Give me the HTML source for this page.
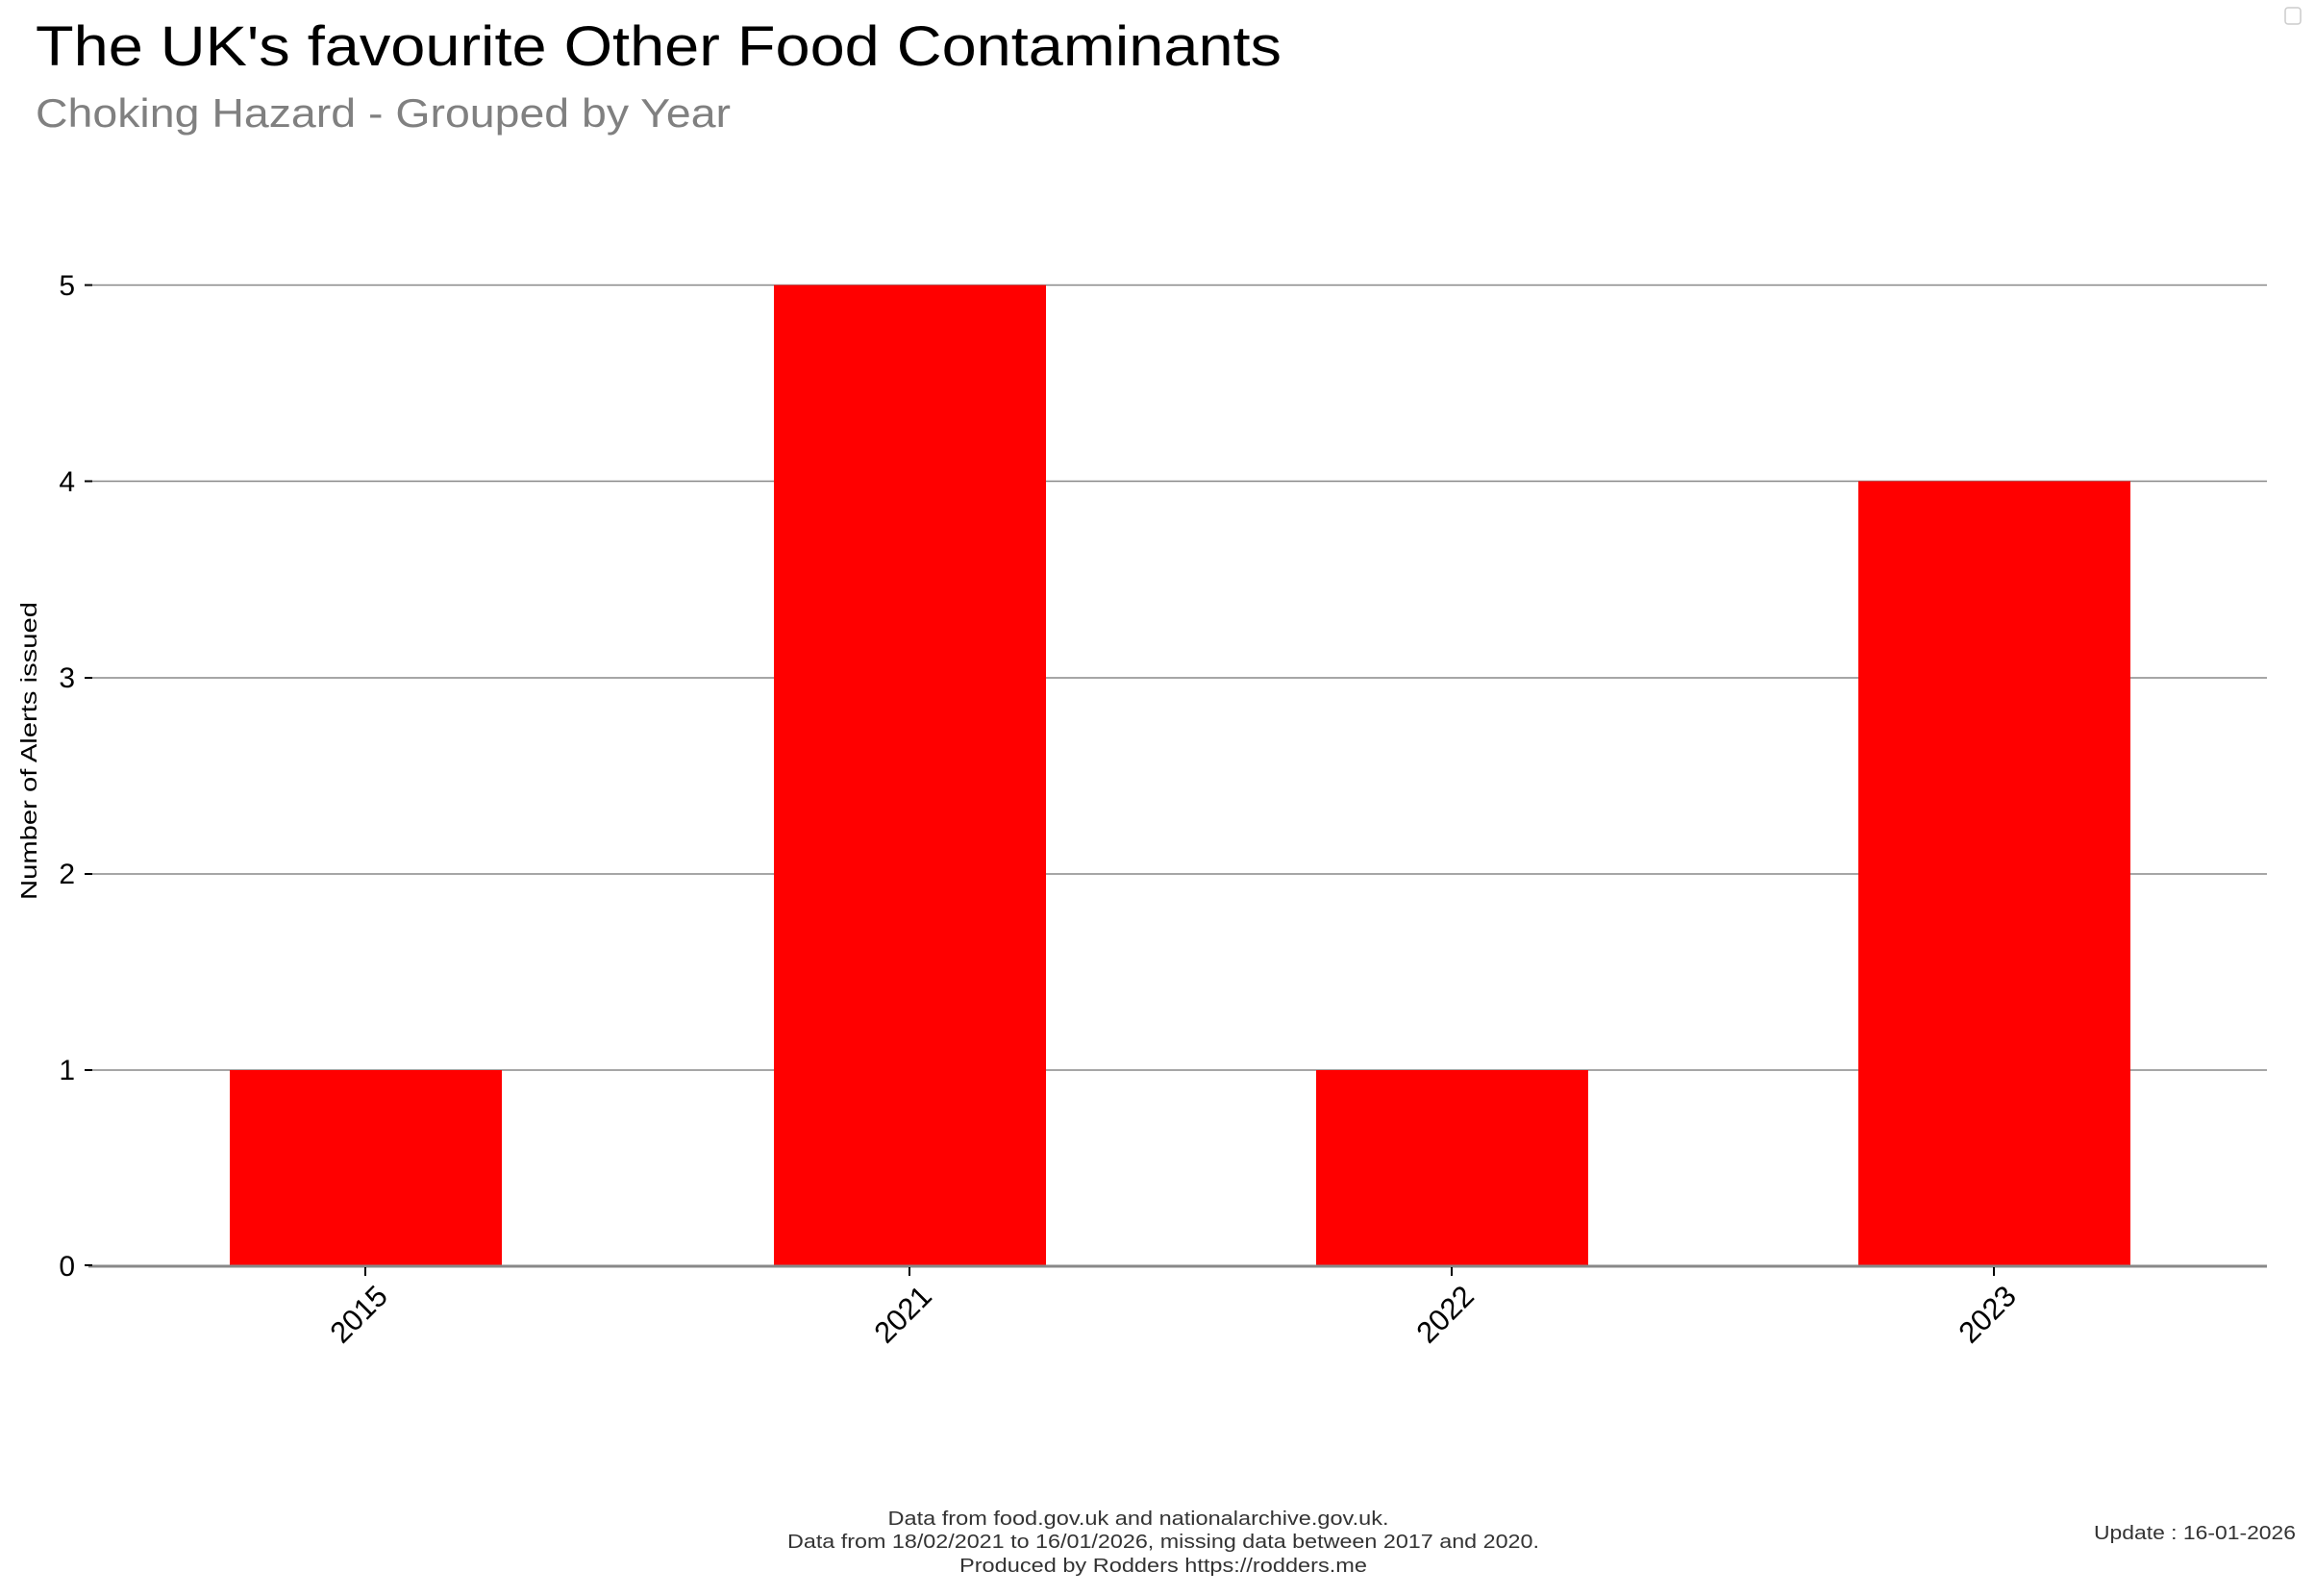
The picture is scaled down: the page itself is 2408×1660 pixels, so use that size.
<!DOCTYPE html>
<html><head><meta charset="utf-8"><style>html,body{margin:0;padding:0;background:#fff}svg{display:block}</style></head>
<body>
<svg width="2408" height="1660" viewBox="0 0 2408 1660" xmlns="http://www.w3.org/2000/svg" font-family="'Liberation Sans', sans-serif">
<rect width="2408" height="1660" fill="#fff"/>
<text x="37" y="68" font-size="58" fill="#000" textLength="1296" lengthAdjust="spacingAndGlyphs">The UK's favourite Other Food Contaminants</text>
<text x="37" y="132" font-size="42" fill="#808080" textLength="723" lengthAdjust="spacingAndGlyphs">Choking Hazard - Grouped by Year</text>
<rect x="2377" y="8" width="16" height="17" rx="3" fill="none" stroke="#ccc" stroke-width="1.5"/>
<g stroke="#888" stroke-width="1.5">
<line x1="92" y1="296.5" x2="2358" y2="296.5"/>
<line x1="92" y1="500.5" x2="2358" y2="500.5"/>
<line x1="92" y1="705" x2="2358" y2="705"/>
<line x1="92" y1="909" x2="2358" y2="909"/>
<line x1="92" y1="1113" x2="2358" y2="1113"/>
</g>
<g fill="#ff0000">
<rect x="239" y="1113" width="283" height="203"/>
<rect x="805" y="296.5" width="283" height="1019.5"/>
<rect x="1369" y="1113" width="283" height="203"/>
<rect x="1933" y="500.5" width="283" height="815.5"/>
</g>
<line x1="92" y1="1317" x2="2358" y2="1317" stroke="#888" stroke-width="3"/>
<g stroke="#000" stroke-width="2">
<line x1="88" y1="296.5" x2="96" y2="296.5"/><line x1="88" y1="500.5" x2="96" y2="500.5"/>
<line x1="88" y1="705" x2="96" y2="705"/><line x1="88" y1="909" x2="96" y2="909"/>
<line x1="88" y1="1113" x2="96" y2="1113"/><line x1="88" y1="1316" x2="96" y2="1316"/>
<line x1="380" y1="1318" x2="380" y2="1327"/><line x1="946" y1="1318" x2="946" y2="1327"/>
<line x1="1510" y1="1318" x2="1510" y2="1327"/><line x1="2074" y1="1318" x2="2074" y2="1327"/>
</g>
<g font-size="30" fill="#000" text-anchor="end">
<text x="78" y="307">5</text><text x="78" y="511">4</text><text x="78" y="715">3</text>
<text x="78" y="919">2</text><text x="78" y="1123">1</text><text x="78" y="1327">0</text>
</g>
<g font-size="31" fill="#000" text-anchor="end">
<text transform="translate(405,1350) rotate(-45)">2015</text>
<text transform="translate(971,1350) rotate(-45)">2021</text>
<text transform="translate(1535,1350) rotate(-45)">2022</text>
<text transform="translate(2099,1350) rotate(-45)">2023</text>
</g>
<text transform="translate(38,781) rotate(-90)" font-size="23" fill="#000" text-anchor="middle" textLength="310" lengthAdjust="spacingAndGlyphs">Number of Alerts issued</text>
<g font-size="20" fill="#333" text-anchor="middle">
<text x="1184" y="1586" textLength="521" lengthAdjust="spacingAndGlyphs">Data from food.gov.uk and nationalarchive.gov.uk.</text>
<text x="1210" y="1610" textLength="782" lengthAdjust="spacingAndGlyphs">Data from 18/02/2021 to 16/01/2026, missing data between 2017 and 2020.</text>
<text x="1210" y="1635" textLength="424" lengthAdjust="spacingAndGlyphs">Produced by Rodders https://rodders.me</text>
</g>
<text x="2388" y="1601" font-size="20" fill="#333" text-anchor="end" textLength="210" lengthAdjust="spacingAndGlyphs">Update : 16-01-2026</text>
</svg>
</body></html>
